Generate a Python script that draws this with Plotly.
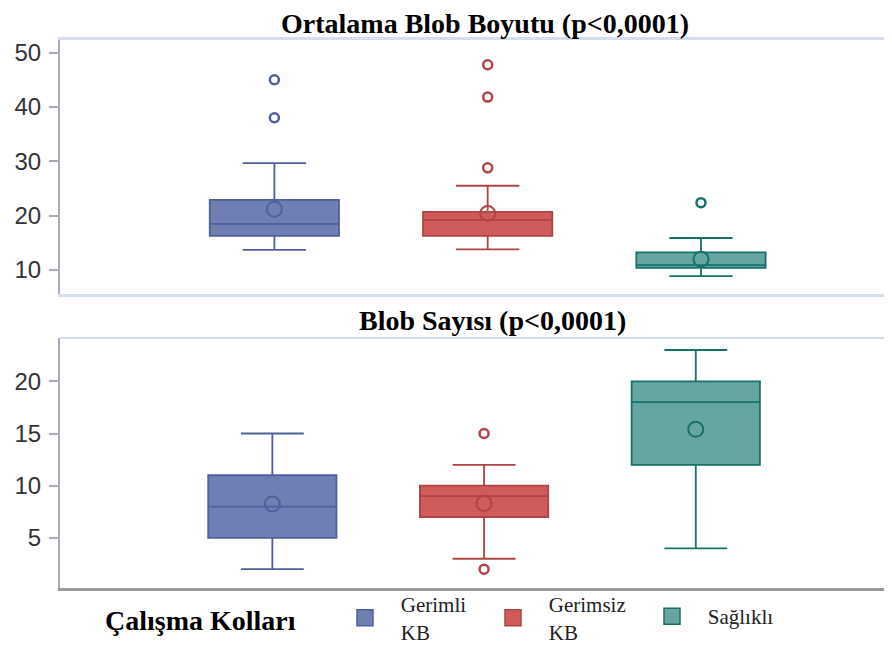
import plotly.graph_objects as go

groups = ["Gerimli KB", "Gerimsiz KB", "Sağlıklı"]
legend_names = ["Gerimli<br>KB", "Gerimsiz<br>KB", "Sağlıklı"]

# Panel 1: Ortalama Blob Boyutu
size_q1 = [16.3, 16.3, 10.4]
size_median = [18.5, 19.2, 10.9]
size_q3 = [22.9, 20.7, 13.25]
size_low = [13.7, 13.8, 8.9]
size_high = [29.65, 25.5, 15.9]
size_mean = [21.2, 20.4, 12.0]
size_outliers = [[45.0, 38.0], [47.75, 41.8, 28.8], [22.4]]

# Panel 2: Blob Sayısı
count_q1 = [5.0, 7.0, 12.0]
count_median = [8.0, 9.0, 18.0]
count_q3 = [11.0, 10.0, 20.0]
count_low = [2.0, 3.0, 4.0]
count_high = [15.0, 12.0, 23.0]
count_mean = [8.25, 8.3, 15.4]
count_outliers = [[], [15.0, 2.0], []]

fill_colors = ["#6F7EB3", "#D05B5B", "#66A5A0"]
line_colors = ["#4F5F9F", "#B04444", "#16736A"]

top_title = "Ortalama Blob Boyutu (p<0,0001)"
bottom_title = "Blob Sayısı (p<0,0001)"
legend_title = "Çalışma Kolları"

fig = go.Figure()

panels = [
    ("x", "y", size_q1, size_median, size_q3, size_low, size_high, size_mean, size_outliers),
    ("x2", "y2", count_q1, count_median, count_q3, count_low, count_high, count_mean, count_outliers),
]

for xa, ya, q1, med, q3, lo, hi, mn, outl in panels:
    for i, g in enumerate(groups):
        fig.add_trace(go.Box(
            x=[g], q1=[q1[i]], median=[med[i]], q3=[q3[i]],
            lowerfence=[lo[i]], upperfence=[hi[i]],
            fillcolor=fill_colors[i],
            line=dict(color=line_colors[i], width=1.8),
            width=0.606, whiskerwidth=0.49, boxpoints=False,
            name=g, showlegend=False,
            xaxis=xa, yaxis=ya, hoverinfo="skip",
        ))
        fig.add_trace(go.Scatter(
            x=[g], y=[mn[i]], mode="markers",
            marker=dict(symbol="circle-open", size=15, color=line_colors[i], line=dict(width=2)),
            showlegend=False, xaxis=xa, yaxis=ya, hoverinfo="skip",
        ))
        if outl[i]:
            fig.add_trace(go.Scatter(
                x=[g] * len(outl[i]), y=outl[i], mode="markers",
                marker=dict(symbol="circle-open", size=9, color=line_colors[i], line=dict(width=2.5)),
                showlegend=False, xaxis=xa, yaxis=ya, hoverinfo="skip",
            ))

NB = "\u00a0"
pad = NB * 3
legend_refs = ["legend", "legend", "legend2"]
# legend entries (swatches)
for i, g in enumerate(groups):
    label = "<br>".join(pad + part for part in legend_names[i].split("<br>"))
    fig.add_trace(go.Scatter(
        x=[None], y=[None], mode="markers", name=label,
        marker=dict(symbol="square", size=16, color=fill_colors[i],
                    line=dict(color=line_colors[i], width=1.5)),
        showlegend=True, hoverinfo="skip", legend=legend_refs[i],
    ))

# page body has an 8px margin: work in screen coordinates and convert
OFF = 8
W, H = 892 - 2 * OFF, 652 - 2 * OFF
L = 60 - OFF
PW = W - L


def py(screen_y):
    return (H - (screen_y - OFF)) / H


def px(screen_x):
    return (screen_x - OFF - L) / PW


top_dom = [py(294), py(40)]
bot_dom = [py(588), py(338)]

tickfont = dict(family="Liberation Sans, Arial, sans-serif", size=24, color="#333333")
common_y = dict(showgrid=False, zeroline=False, showline=True, linecolor="#a8acb4", linewidth=2,
                ticks="outside", ticklen=9, tickwidth=1.5, tickcolor="#a8acb4", tickfont=tickfont,
                ticklabelstandoff=3, automargin=False)

serif = "Liberation Serif, Times New Roman, serif"
legend_common = dict(orientation="h", xanchor="left", yanchor="top",
                     font=dict(family=serif, size=21, color="#222222"),
                     bgcolor="rgba(0,0,0,0)", entrywidth=103, itemclick=False, itemdoubleclick=False,
                     valign="middle", tracegroupgap=0)

fig.update_layout(
    width=W, height=H,
    margin=dict(l=L, r=0, t=0, b=0, autoexpand=False),
    paper_bgcolor="white", plot_bgcolor="white",
    xaxis=dict(domain=[0, 1], anchor="y", type="category", categoryorder="array", categoryarray=groups,
               range=[-1.005, 2.858], showticklabels=False, ticks="", showgrid=False, zeroline=False,
               showline=True, linecolor="#d3deee", linewidth=3, mirror=True, automargin=False),
    yaxis=dict(domain=top_dom, anchor="x", range=[5.6, 52.3], tickvals=[10, 20, 30, 40, 50], **common_y),
    xaxis2=dict(domain=[0, 1], anchor="y2", type="category", categoryorder="array", categoryarray=groups,
                range=[-1.003, 2.889], showticklabels=False, ticks="", showgrid=False, zeroline=False,
                showline=True, linecolor="#9a9a9a", linewidth=3, automargin=False),
    yaxis2=dict(domain=bot_dom, anchor="x2", range=[0.2, 24.15], tickvals=[5, 10, 15, 20], **common_y),
    showlegend=True,
    legend=dict(x=px(345), y=py(584), **legend_common),
    legend2=dict(x=px(652), y=py(596), **legend_common),
    shapes=[
        dict(type="line", xref="paper", yref="paper", x0=0, x1=1, y0=bot_dom[1], y1=bot_dom[1],
             line=dict(color="#d3deee", width=2)),
    ],
    annotations=[
        dict(text="<b>" + top_title + "</b>", xref="paper", yref="paper", x=px(485), y=py(23),
             xanchor="center", yanchor="middle", showarrow=False,
             font=dict(family=serif, size=28, color="black")),
        dict(text="<b>" + bottom_title + "</b>", xref="paper", yref="paper", x=px(492), y=py(321),
             xanchor="center", yanchor="middle", showarrow=False,
             font=dict(family=serif, size=28, color="black")),
        dict(text="<b>" + legend_title + "</b>", xref="paper", yref="paper", x=px(103), y=py(620),
             xanchor="left", yanchor="middle", showarrow=False,
             font=dict(family=serif, size=28, color="black")),
    ],
)

fig.write_html("out.html")
